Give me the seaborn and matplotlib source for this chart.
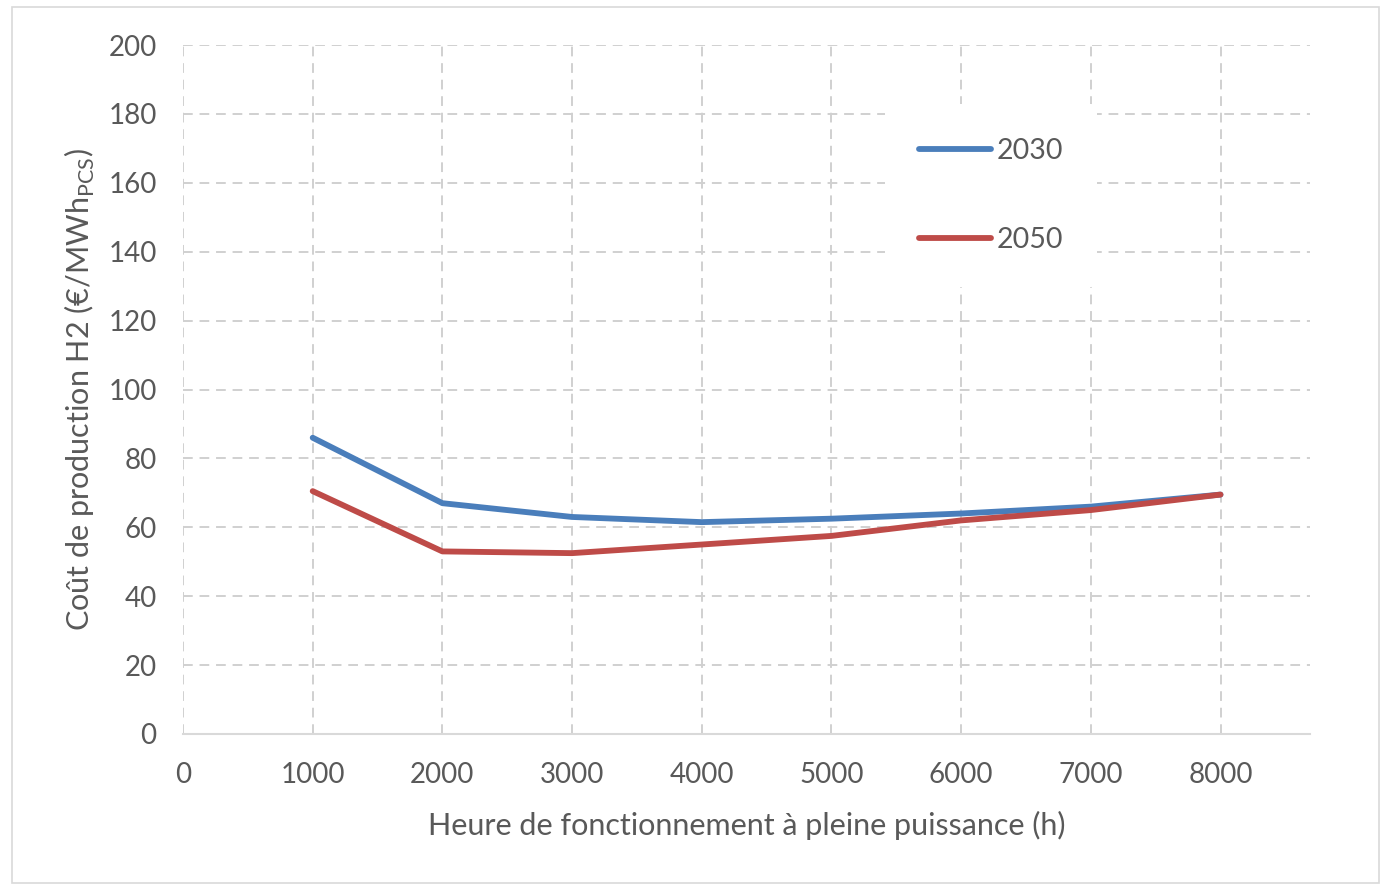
import matplotlib
matplotlib.use("Agg")
import matplotlib.pyplot as plt
import seaborn as sns
import pandas as pd
from matplotlib.patches import Rectangle

hours = [1000, 2000, 3000, 4000, 5000, 6000, 7000, 8000]
cost_2030 = [86, 67, 63, 61.5, 62.5, 64, 66, 69.5]
cost_2050 = [70.5, 53, 52.5, 55, 57.5, 62, 65, 69.5]
series = ["2030", "2050"]
xticks = [0, 1000, 2000, 3000, 4000, 5000, 6000, 7000, 8000]
yticks = [0, 20, 40, 60, 80, 100, 120, 140, 160, 180, 200]

df = pd.DataFrame({
    "h": hours * 2,
    "cost": cost_2030 + cost_2050,
    "annee": [series[0]] * len(hours) + [series[1]] * len(hours),
})

sns.set_theme(style="white")
plt.rcParams['font.family'] = ['Lato', 'DejaVu Sans']
plt.rcParams['mathtext.fontset'] = 'custom'
plt.rcParams['mathtext.rm'] = 'Lato'

txt = "#595959"
grid = "#D0D0D0"

fig = plt.figure(figsize=(13.81, 8.85), dpi=100)
ax = fig.add_axes([183/1381, 1 - 734/885, (1310-183)/1381, (734-45)/885])

fig.patches.append(Rectangle((12/1381, 0.002), (1379-12)/1381, 1 - 7/885 - 0.002,
                             transform=fig.transFigure, fill=False,
                             edgecolor="#D9D9D9", linewidth=1.2))

sns.lineplot(data=df, x="h", y="cost", hue="annee",
             palette={"2030": "#4A7EBB", "2050": "#BE4B48"},
             linewidth=4.2, ax=ax, legend=True, solid_capstyle="round")

ax.set_xlim(0, 8690)
ax.set_ylim(0, 200)
ax.set_xticks(xticks)
ax.set_yticks(yticks)
ax.set_xticklabels([str(v) for v in xticks])
ax.set_yticklabels([str(v) for v in yticks])

dash = (0, (5, 3.5))
for y in yticks[1:]:
    ax.axhline(y, color=grid, lw=1.4, ls=dash, zorder=0)
for x in xticks:
    ax.plot([x, x], [0, 200], color=grid, lw=1.4, ls=dash, zorder=0)

for s in ["top", "right", "left"]:
    ax.spines[s].set_visible(False)
ax.spines["bottom"].set_color("#D9D9D9")
ax.spines["bottom"].set_linewidth(1.5)

ax.tick_params(axis="both", length=0, labelsize=20, labelcolor=txt)
ax.tick_params(axis="x", pad=20)
ax.tick_params(axis="y", pad=19)

ax.set_xlabel("Heure de fonctionnement à pleine puissance (h)", fontsize=22,
              color=txt, labelpad=17)
ax.set_ylabel(r"Coût de production H2 (€/MWh$_{\mathregular{PCS}}$)", fontsize=22,
              color=txt, labelpad=8)

leg = ax.legend(loc="upper left", bbox_to_anchor=(688/1127, 1 - 45/689),
                frameon=True, framealpha=1, edgecolor="none", facecolor="white",
                fontsize=20.5, labelspacing=2.2, handlelength=2.5, handletextpad=0.2,
                borderpad=1.2)
for t in leg.get_texts():
    t.set_color(txt)
for l in leg.get_lines():
    l.set_linewidth(4.2)
    l.set_solid_capstyle("round")

fig.savefig("out.png", dpi=100)
